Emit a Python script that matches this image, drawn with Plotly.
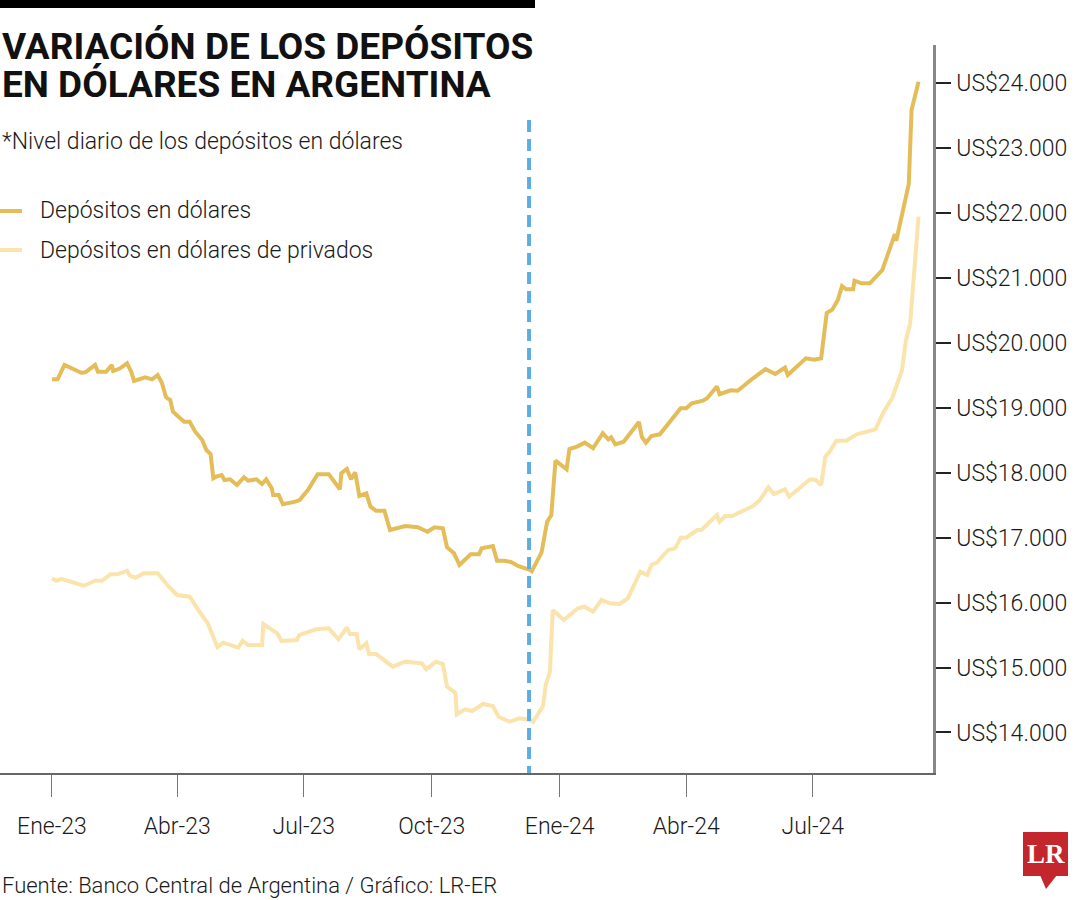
import plotly.graph_objects as go

# ---------------- data ----------------
main_name = "Depósitos en dólares"
main_dates = [
    "2023-01-01", "2023-01-05", "2023-01-10", "2023-01-16", "2023-01-22", "2023-01-25",
    "2023-02-01", "2023-02-03", "2023-02-09", "2023-02-13", "2023-02-14", "2023-02-19",
    "2023-02-24", "2023-02-27", "2023-03-01", "2023-03-09", "2023-03-14", "2023-03-18",
    "2023-03-21", "2023-03-24", "2023-03-27", "2023-03-29", "2023-04-02", "2023-04-06",
    "2023-04-10", "2023-04-14", "2023-04-19", "2023-04-22", "2023-04-25", "2023-04-27",
    "2023-04-29", "2023-05-03", "2023-05-05", "2023-05-09", "2023-05-14", "2023-05-19",
    "2023-05-22", "2023-05-28", "2023-06-01", "2023-06-04", "2023-06-08", "2023-06-09",
    "2023-06-13", "2023-06-16", "2023-06-25", "2023-06-28", "2023-07-04", "2023-07-11",
    "2023-07-19", "2023-07-27", "2023-07-28", "2023-08-01", "2023-08-04", "2023-08-07",
    "2023-08-10", "2023-08-15", "2023-08-18", "2023-08-22", "2023-08-28", "2023-09-01",
    "2023-09-12", "2023-09-21", "2023-09-28", "2023-10-03", "2023-10-09", "2023-10-12",
    "2023-10-17", "2023-10-21", "2023-10-29", "2023-11-04", "2023-11-06", "2023-11-14",
    "2023-11-17", "2023-11-22", "2023-11-27", "2023-12-02", "2023-12-11", "2023-12-12",
    "2023-12-19", "2023-12-23", "2023-12-26", "2023-12-29", "2024-01-06", "2024-01-08",
    "2024-01-14", "2024-01-19", "2024-01-25", "2024-02-01", "2024-02-05", "2024-02-07",
    "2024-02-10", "2024-02-16", "2024-02-27", "2024-02-29", "2024-03-03", "2024-03-07",
    "2024-03-13", "2024-03-20", "2024-03-28", "2024-04-01", "2024-04-05", "2024-04-13",
    "2024-04-16", "2024-04-23", "2024-04-25", "2024-05-03", "2024-05-08", "2024-05-19",
    "2024-05-28", "2024-06-04", "2024-06-11", "2024-06-13", "2024-06-26", "2024-07-02",
    "2024-07-07", "2024-07-11", "2024-07-15", "2024-07-19", "2024-07-22", "2024-07-25",
    "2024-07-30", "2024-07-31", "2024-08-05", "2024-08-11", "2024-08-20", "2024-08-29",
    "2024-08-30", "2024-09-08", "2024-09-10", "2024-09-15",
]
main_values = [
    19440, 19440, 19661, 19594, 19542, 19548,
    19661, 19557, 19557, 19661, 19568, 19610,
    19687, 19557, 19414, 19471, 19440, 19507,
    19388, 19163, 19121, 18941, 18864, 18787,
    18787, 18633, 18505, 18351, 18290, 17915,
    17940, 17966, 17889, 17900, 17812, 17931,
    17879, 17900, 17828, 17900, 17761, 17658,
    17658, 17515, 17555, 17581, 17735, 17979,
    17979, 17746, 17992, 18059, 17900, 18008,
    17643, 17684, 17478, 17416, 17416, 17119,
    17181, 17161, 17093, 17161, 17145, 16853,
    16760, 16580, 16745, 16745, 16837, 16873,
    16646, 16646, 16626, 16565, 16503, 16485,
    16773, 17247, 17350, 18187, 18054, 18367,
    18408, 18464, 18378, 18609, 18516, 18547,
    18439, 18479, 18783, 18556, 18464, 18567,
    18593, 18787, 18994, 18994, 19071, 19111,
    19148, 19331, 19211, 19271, 19265, 19456,
    19596, 19522, 19622, 19507, 19764, 19742,
    19764, 20462, 20513, 20662, 20877, 20827,
    20827, 20959, 20919, 20919, 21124, 21678,
    21575, 22449, 23588, 24024,
]

priv_name = "Depósitos en dólares de privados"
priv_dates = [
    "2023-01-01", "2023-01-04", "2023-01-08", "2023-01-16", "2023-01-24", "2023-02-01",
    "2023-02-06", "2023-02-12", "2023-02-17", "2023-02-24", "2023-02-26", "2023-03-02",
    "2023-03-08", "2023-03-18", "2023-03-26", "2023-04-01", "2023-04-10", "2023-04-17",
    "2023-04-23", "2023-04-30", "2023-05-04", "2023-05-15", "2023-05-18", "2023-05-22",
    "2023-06-01", "2023-06-02", "2023-06-12", "2023-06-15", "2023-06-26", "2023-06-28",
    "2023-07-10", "2023-07-19", "2023-07-26", "2023-08-01", "2023-08-03", "2023-08-08",
    "2023-08-10", "2023-08-15", "2023-08-17", "2023-08-22", "2023-09-03", "2023-09-12",
    "2023-09-24", "2023-09-27", "2023-10-04", "2023-10-09", "2023-10-12", "2023-10-18",
    "2023-10-19", "2023-10-25", "2023-10-30", "2023-11-07", "2023-11-14", "2023-11-18",
    "2023-11-26", "2023-12-03", "2023-12-11", "2023-12-13", "2023-12-20", "2023-12-22",
    "2023-12-25", "2023-12-27", "2024-01-04", "2024-01-14", "2024-01-19", "2024-01-25",
    "2024-01-31", "2024-02-06", "2024-02-13", "2024-02-19", "2024-02-28", "2024-03-04",
    "2024-03-07", "2024-03-11", "2024-03-19", "2024-03-24", "2024-03-28", "2024-04-01",
    "2024-04-09", "2024-04-12", "2024-04-23", "2024-04-25", "2024-04-29", "2024-05-04",
    "2024-05-19", "2024-05-24", "2024-05-30", "2024-06-03", "2024-06-11", "2024-06-14",
    "2024-06-24", "2024-06-29", "2024-07-03", "2024-07-07", "2024-07-10", "2024-07-13",
    "2024-07-18", "2024-07-25", "2024-08-02", "2024-08-15", "2024-08-21", "2024-08-27",
    "2024-09-03", "2024-09-06", "2024-09-09", "2024-09-12", "2024-09-15",
]
priv_values = [
    16375, 16338, 16364, 16307, 16261, 16338,
    16338, 16437, 16437, 16492, 16415, 16384,
    16452, 16452, 16246, 16118, 16092, 15861,
    15682, 15312, 15383, 15306, 15414, 15348,
    15348, 15671, 15528, 15409, 15425, 15502,
    15590, 15605, 15436, 15620, 15517, 15517,
    15282, 15374, 15209, 15209, 15014, 15091,
    15066, 14973, 15091, 15055, 14705, 14613,
    14280, 14357, 14331, 14439, 14408, 14243,
    14166, 14219, 14193, 14166, 14408, 14732,
    14937, 15887, 15733, 15913, 15938, 15861,
    16041, 15990, 15979, 16067, 16477, 16426,
    16580, 16619, 16811, 16837, 17001, 17001,
    17119, 17119, 17350, 17247, 17335, 17335,
    17489, 17581, 17777, 17674, 17746, 17632,
    17812, 17900, 17889, 17812, 18248, 18325,
    18495, 18495, 18598, 18670, 18941, 19148,
    19570, 20046, 20303, 21227, 21945,
]

x_tick_dates = ["2023-01-01", "2023-04-01", "2023-07-01", "2023-10-01",
                "2024-01-01", "2024-04-01", "2024-07-01"]
x_tick_labels = ["Ene-23", "Abr-23", "Jul-23", "Oct-23", "Ene-24", "Abr-24", "Jul-24"]
y_tick_values = [14000, 15000, 16000, 17000, 18000, 19000, 20000, 21000, 22000, 23000, 24000]
y_tick_labels = ["US$" + f"{v:,}".replace(",", ".") for v in y_tick_values]
x_range = ["2022-11-24 15:00", "2024-09-25 10:00"]
y_range = [13376, 24590]
marker_date = "2023-12-10"   # dashed reference line

title_lines = ["VARIACIÓN DE LOS DEPÓSITOS", "EN DÓLARES EN ARGENTINA"]
subtitle = "*Nivel diario de los depósitos en dólares"
source = "Fuente: Banco Central de Argentina / Gráfico: LR-ER"

# ---------------- styling ----------------
W, H = 1080, 900
PL, PR, PT, PB = 0, 933, 45, 773
GOLD = "#E4BD58"
LIGHT = "#FBE3AC"
BLUE = "#5DADE2"
TXT = "#1a1a1a"
FONT = "Roboto, Liberation Sans, sans-serif"
LIGHTW = 300
BODY = 23


def px(x):
    return (x - PL) / (PR - PL)


def py(y):
    return (PB - y) / (PB - PT)


fig = go.Figure()
fig.add_trace(go.Scatter(x=priv_dates, y=priv_values, mode="lines", name=priv_name,
                         line=dict(color=LIGHT, width=4), showlegend=False))
fig.add_trace(go.Scatter(x=main_dates, y=main_values, mode="lines", name=main_name,
                         line=dict(color=GOLD, width=4), showlegend=False))

shapes = [
    # top black bar
    dict(type="rect", xref="paper", yref="paper", x0=px(0), x1=px(535), y0=py(8), y1=py(0),
         fillcolor="black", line=dict(width=0)),
    # dashed vertical marker
    dict(type="line", xref="x", yref="paper", x0=marker_date, x1=marker_date,
         y0=py(120), y1=0, line=dict(color=BLUE, width=4, dash="12px,7px"), layer="above"),
    # legend swatches
    dict(type="line", xref="paper", yref="paper", x0=px(0), x1=px(22), y0=py(211), y1=py(211),
         line=dict(color=GOLD, width=4)),
    dict(type="line", xref="paper", yref="paper", x0=px(0), x1=px(22), y0=py(250), y1=py(250),
         line=dict(color=LIGHT, width=4)),
    # LR logo
    dict(type="rect", xref="paper", yref="paper", x0=px(1023), x1=px(1068), y0=py(876), y1=py(832),
         fillcolor="#C4262E", line=dict(width=0)),
    dict(type="path", xref="paper", yref="paper",
         path=f"M {px(1040)} {py(875)} L {px(1057)} {py(875)} L {px(1046)} {py(889)} Z",
         fillcolor="#C4262E", line=dict(width=0)),
]

annotations = [
    dict(text=title_lines[0], x=px(0), y=py(47), xanchor="left", yanchor="middle",
         font=dict(family=FONT, size=37, color="#111", weight="bold")),
    dict(text=title_lines[1], x=px(0), y=py(84), xanchor="left", yanchor="middle",
         font=dict(family=FONT, size=37, color="#111", weight="bold")),
    dict(text=subtitle, x=px(0), y=py(142), xanchor="left", yanchor="middle",
         font=dict(family=FONT, size=BODY, color=TXT, weight=LIGHTW)),
    dict(text=main_name, x=px(38), y=py(211), xanchor="left", yanchor="middle",
         font=dict(family=FONT, size=BODY, color=TXT, weight=LIGHTW)),
    dict(text=priv_name, x=px(38), y=py(250), xanchor="left", yanchor="middle",
         font=dict(family=FONT, size=BODY, color=TXT, weight=LIGHTW)),
    dict(text=source, x=px(0), y=py(886), xanchor="left", yanchor="middle",
         font=dict(family=FONT, size=22, color=TXT, weight=LIGHTW)),
    dict(text="LR", x=px(1046), y=py(854), xanchor="center", yanchor="middle",
         font=dict(family="Liberation Serif, DejaVu Serif, serif", size=27, color="white",
                   weight="bold")),
]
for a in annotations:
    a.update(xref="paper", yref="paper", showarrow=False)

fig.update_layout(
    width=W, height=H,
    margin=dict(l=PL, r=W - PR, t=PT, b=H - PB, pad=0),
    paper_bgcolor="white", plot_bgcolor="white",
    font=dict(family=FONT, size=BODY, color=TXT),
    shapes=shapes, annotations=annotations,
    showlegend=False,
)
fig.update_xaxes(
    type="date", range=x_range, tickvals=x_tick_dates, ticktext=x_tick_labels,
    showgrid=False, zeroline=False, showline=True, linecolor="#666", linewidth=1.5,
    ticks="outside", ticklen=22, tickcolor="#777", tickwidth=1,
    tickfont=dict(family=FONT, size=BODY, color=TXT, weight=LIGHTW), ticklabelstandoff=10,
)
fig.update_yaxes(
    side="right", range=y_range, tickvals=y_tick_values, ticktext=y_tick_labels,
    showgrid=False, zeroline=False, showline=True, linecolor="#888", linewidth=2.5,
    ticks="outside", ticklen=15, tickcolor="#222", tickwidth=1.5,
    tickfont=dict(family=FONT, size=BODY, color=TXT, weight=LIGHTW), ticklabelstandoff=1,
)

fig.write_html("out.html", config={"displayModeBar": False},
               post_script="document.body.style.margin='0px';")
